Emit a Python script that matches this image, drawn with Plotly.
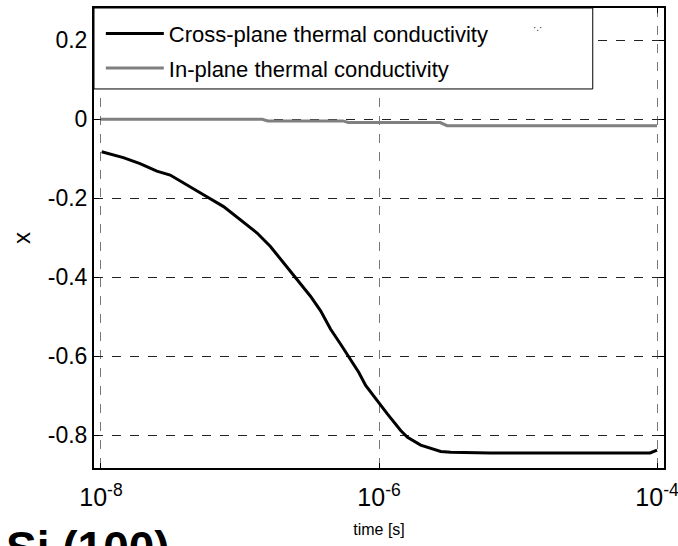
import plotly.graph_objects as go

# Data (log10 of time in seconds, and X values)
cross_logt = [-7.995, -7.839, -7.719, -7.598, -7.502, -7.382, -7.238, -7.118, -6.998, -6.877,
              -6.781, -6.685, -6.601, -6.493, -6.420, -6.349, -6.277, -6.217, -6.145, -6.096,
              -6.0, -5.940, -5.844, -5.795, -5.700, -5.556, -5.484, -5.2, -4.6, -4.05, -4.0]
cross_vals = [-0.082, -0.097, -0.112, -0.131, -0.141, -0.165, -0.196, -0.221, -0.254, -0.288,
              -0.322, -0.364, -0.403, -0.448, -0.485, -0.531, -0.569, -0.603, -0.641, -0.674,
              -0.720, -0.746, -0.788, -0.805, -0.825, -0.841, -0.843, -0.845, -0.845, -0.845, -0.838]

in_logt = [-8.0, -6.84, -6.80, -6.26, -6.22, -5.56, -5.51, -4.0]
in_vals = [0.0, 0.0, -0.004, -0.004, -0.008, -0.008, -0.016, -0.016]

x_tickvals = [1e-8, 1e-6, 1e-4]
x_ticktext = ["10<sup>-8</sup>", "10<sup>-6</sup>", "10<sup>-4</sup>"]
y_tickvals = [0.2, 0, -0.2, -0.4, -0.6, -0.8]
y_ticktext = ["0.2", "0", "-0.2", "-0.4", "-0.6", "-0.8"]

FONT = "Liberation Sans, Arial, sans-serif"

fig = go.Figure()
fig.add_trace(go.Scatter(
    x=[10 ** v for v in cross_logt], y=cross_vals, mode="lines",
    name="Cross-plane thermal conductivity", legendgroup="a",
    line=dict(color="black", width=3)))
fig.add_trace(go.Scatter(
    x=[10 ** v for v in in_logt], y=in_vals, mode="lines",
    name="In-plane thermal conductivity", legendgroup="b",
    line=dict(color="#808080", width=3)))

# legend box
fig.add_shape(type="rect", xref="paper", yref="paper", x0=0, x1=0.875, y0=0.824, y1=1,
              fillcolor="white", line=dict(color="black", width=1), layer="above")

fig.add_annotation(text="·.·", xref="paper", yref="paper", x=0.79, y=0.975,
                   showarrow=False, font=dict(size=10, color="#222222"))

fig.add_annotation(text="<b>Si (100)</b>", xref="paper", yref="paper",
                   x=-0.158, y=-0.113, xanchor="left", yanchor="top", showarrow=False,
                   font=dict(family=FONT, size=46, color="black"))

fig.update_layout(
    width=678, height=546,
    margin=dict(l=94, r=14, t=8, b=78, autoexpand=False),
    paper_bgcolor="white", plot_bgcolor="white",
    font=dict(family=FONT, color="black", size=20),
    showlegend=True,
    legend=dict(x=0.012, y=0.99, xanchor="left", yanchor="top",
                bgcolor="rgba(0,0,0,0)", borderwidth=0,
                font=dict(family=FONT, size=22), tracegroupgap=3, itemwidth=58),
    xaxis=dict(type="log", range=[-8.05, -3.95], tickvals=x_tickvals, ticktext=x_ticktext,
               showgrid=True, gridcolor="#777777", griddash="dash", gridwidth=1,
               showline=True, linecolor="black", linewidth=2, mirror="ticks",
               ticks="inside", ticklen=5, tickcolor="black",
               tickfont=dict(size=25), zeroline=False, ticklabelstandoff=6,
               ticklabeloverflow="allow", automargin=False,
               title=dict(text="time [s]", font=dict(size=16), standoff=14)),
    yaxis=dict(range=[-0.883, 0.282], tickvals=y_tickvals, ticktext=y_ticktext,
               showgrid=True, gridcolor="#222222", griddash="dash", gridwidth=1,
               showline=True, linecolor="black", linewidth=2, mirror="ticks",
               ticks="inside", ticklen=5, tickcolor="black",
               tickfont=dict(size=23), zeroline=False, automargin=False,
               title=dict(text="x", font=dict(size=24), standoff=10)),
)

fig.write_html("out.html")
